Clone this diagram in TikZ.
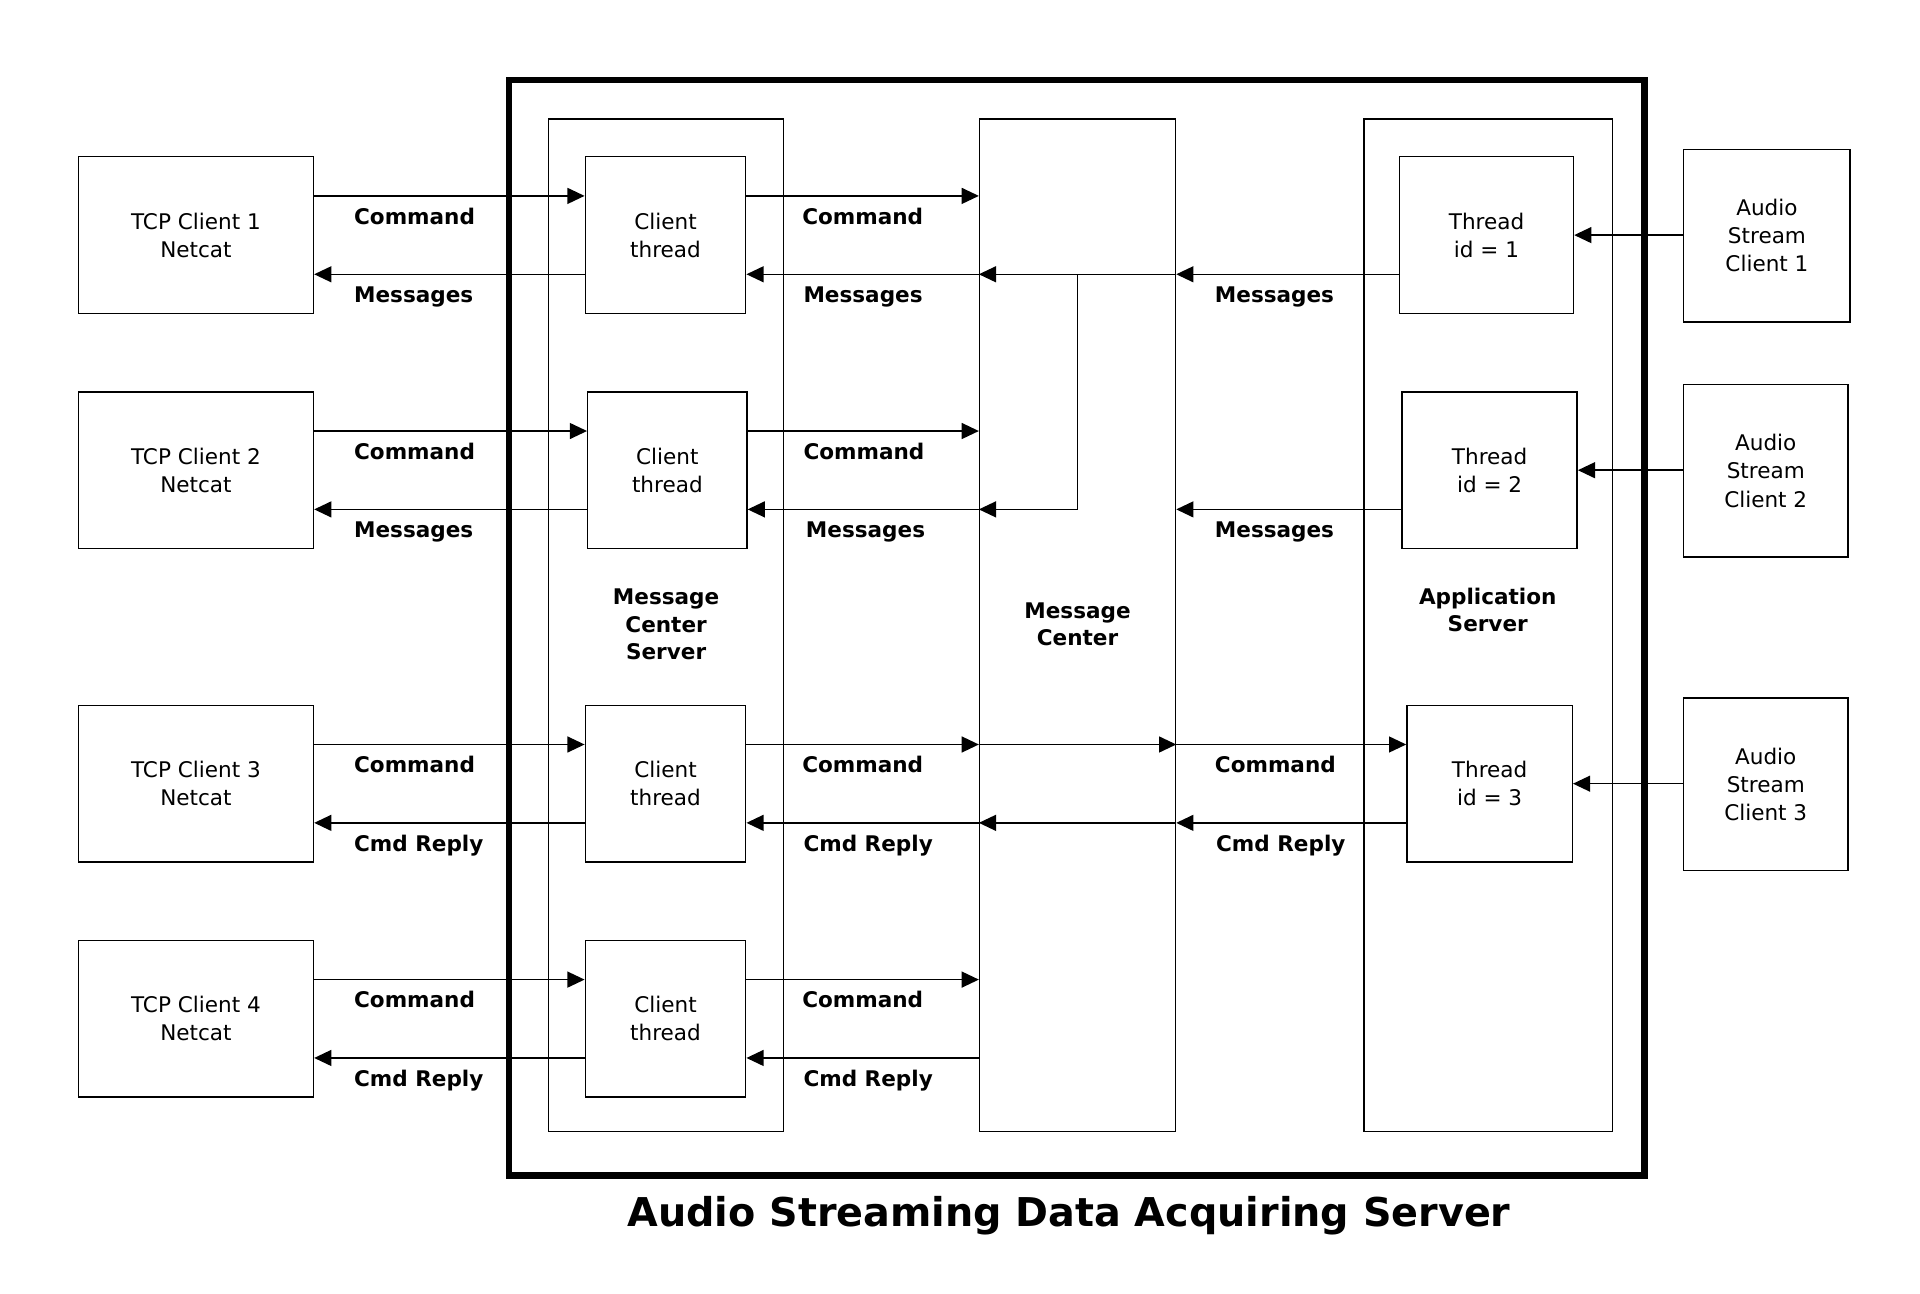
\documentclass[tikz,border=0pt]{standalone}
\usepackage{fontspec}
\setmainfont{DejaVu Sans}
\usetikzlibrary{arrows.meta}
\tikzset{
  box/.style={draw, line width=1.2pt, inner sep=0pt, align=center, font=\fontsize{17.6}{23}\selectfont},
  frame/.style={draw, line width=1.2pt, inner sep=0pt},
  arr/.style={line width=1.2pt, -{Triangle[length=14pt,width=13pt]}},
  lab/.style={anchor=base west, inner sep=0pt, font=\fontsize{17.6}{23}\selectfont\bfseries},
  grp/.style={align=center, inner sep=0pt, font=\fontsize{17.6}{22.5}\selectfont\bfseries}
}
\begin{document}
\begin{tikzpicture}[x=1pt,y=-1pt]
\useasboundingbox (0,0) rectangle (1568,1056);
% outer frame
\node[draw, line width=5pt, inner sep=0pt, minimum width=927pt, minimum height=895pt] (outer) at (879.5,512.5) {};
% group boxes
\node[frame, minimum width=192pt, minimum height=827pt] (mcs) at (544,510.5) {};
\node[frame, minimum width=160pt, minimum height=827pt] (mc) at (880,510.5) {};
\node[frame, minimum width=203pt, minimum height=827pt] (as) at (1215.5,510.5) {};
\node[grp] (mcsl) at (544,510) {Message\\Center\\Server};
\node[grp] (mcl) at (880,510) {Message\\Center};
\node[grp] (asl) at (1215,498) {Application\\Server};
% TCP clients
\node[box, minimum width=192pt, minimum height=128pt] (tcp1) at (160,192) {TCP Client 1\\Netcat};
\node[box, minimum width=192pt, minimum height=128pt] (tcp2) at (160,384) {TCP Client 2\\Netcat};
\node[box, minimum width=192pt, minimum height=128pt] (tcp3) at (160,640) {TCP Client 3\\Netcat};
\node[box, minimum width=192pt, minimum height=128pt] (tcp4) at (160,832) {TCP Client 4\\Netcat};
% client threads
\node[box, minimum width=131pt, minimum height=128pt] (ct1) at (543.5,192) {Client\\thread};
\node[box, minimum width=130pt, minimum height=128pt] (ct2) at (545,384) {Client\\thread};
\node[box, minimum width=131pt, minimum height=128pt] (ct3) at (543.5,640) {Client\\thread};
\node[box, minimum width=131pt, minimum height=128pt] (ct4) at (543.5,832) {Client\\thread};
% app threads
\node[box, minimum width=142pt, minimum height=128pt] (th1) at (1214,192) {Thread\\id = 1};
\node[box, minimum width=143pt, minimum height=128pt] (th2) at (1216.5,384) {Thread\\id = 2};
\node[box, minimum width=135pt, minimum height=128pt] (th3) at (1216.5,640) {Thread\\id = 3};
% audio clients
\node[box, minimum width=136pt, minimum height=141pt] (asc1) at (1443,192.5) {Audio\\Stream\\Client 1};
\node[box, minimum width=134pt, minimum height=141pt] (asc2) at (1442,384.5) {Audio\\Stream\\Client 2};
\node[box, minimum width=134pt, minimum height=141pt] (asc3) at (1442,640.5) {Audio\\Stream\\Client 3};
% levels
\coordinate (r1c) at (0,160); \coordinate (r1m) at (0,224);
\coordinate (r2c) at (0,352); \coordinate (r2m) at (0,416);
\coordinate (r3c) at (0,608); \coordinate (r3m) at (0,672);
\coordinate (r4c) at (0,800); \coordinate (r4m) at (0,864);
% row 1
\draw[arr] (tcp1.east |- r1c) -- (ct1.west |- r1c);
\draw[arr] (ct1.west |- r1m) -- (tcp1.east |- r1m);
\draw[arr] (ct1.east |- r1c) -- (mc.west |- r1c);
\draw[arr] (mc.west |- r1m) -- (ct1.east |- r1m);
\draw[arr] (mc.east |- r1m) -- (mc.west |- r1m);
\draw[arr] (th1.west |- r1m) -- (mc.east |- r1m);
\coordinate (br) at (mc.center |- r1m);
\draw[arr] (br) |- (mc.west |- r2m);
% row 2
\draw[arr] (tcp2.east |- r2c) -- (ct2.west |- r2c);
\draw[arr] (ct2.west |- r2m) -- (tcp2.east |- r2m);
\draw[arr] (ct2.east |- r2c) -- (mc.west |- r2c);
\draw[arr] (mc.west |- r2m) -- (ct2.east |- r2m);
\draw[arr] (th2.west |- r2m) -- (mc.east |- r2m);
% row 3
\draw[arr] (tcp3.east |- r3c) -- (ct3.west |- r3c);
\draw[arr] (ct3.west |- r3m) -- (tcp3.east |- r3m);
\draw[arr] (ct3.east |- r3c) -- (mc.west |- r3c);
\draw[arr] (mc.west |- r3c) -- (mc.east |- r3c);
\draw[arr] (mc.east |- r3c) -- (th3.west |- r3c);
\draw[arr] (th3.west |- r3m) -- (mc.east |- r3m);
\draw[arr] (mc.east |- r3m) -- (mc.west |- r3m);
\draw[arr] (mc.west |- r3m) -- (ct3.east |- r3m);
% row 4
\draw[arr] (tcp4.east |- r4c) -- (ct4.west |- r4c);
\draw[arr] (ct4.west |- r4m) -- (tcp4.east |- r4m);
\draw[arr] (ct4.east |- r4c) -- (mc.west |- r4c);
\draw[arr] (mc.west |- r4m) -- (ct4.east |- r4m);
% audio
\draw[arr] (asc1.west |- th1.east) -- (th1.east);
\draw[arr] (asc2.west |- th2.east) -- (th2.east);
\draw[arr] (asc3.west |- th3.east) -- (th3.east);
% labels
\node[lab] (a1) at (289,183) {Command};
\node[lab] (a2) at (289,247) {Messages};
\node[lab] (a3) at (289,375) {Command};
\node[lab] (a4) at (289,439) {Messages};
\node[lab] (a5) at (289,631) {Command};
\node[lab] (a6) at (289,695) {Cmd Reply};
\node[lab] (a7) at (289,823) {Command};
\node[lab] (a8) at (289,887) {Cmd Reply};
\node[lab] (b1) at (655,183) {Command};
\node[lab] (b2) at (656,247) {Messages};
\node[lab] (b3) at (656,375) {Command};
\node[lab] (b4) at (658,439) {Messages};
\node[lab] (b5) at (655,631) {Command};
\node[lab] (b6) at (656,695) {Cmd Reply};
\node[lab] (b7) at (655,823) {Command};
\node[lab] (b8) at (656,887) {Cmd Reply};
\node[lab] (c2) at (992,247) {Messages};
\node[lab] (c4) at (992,439) {Messages};
\node[lab] (c5) at (992,631) {Command};
\node[lab] (c6) at (993,695) {Cmd Reply};
% title
\node[inner sep=0pt, font=\fontsize{32.4}{38}\selectfont\bfseries] (title) at (873,993) {Audio Streaming Data Acquiring Server};
\end{tikzpicture}
\end{document}
